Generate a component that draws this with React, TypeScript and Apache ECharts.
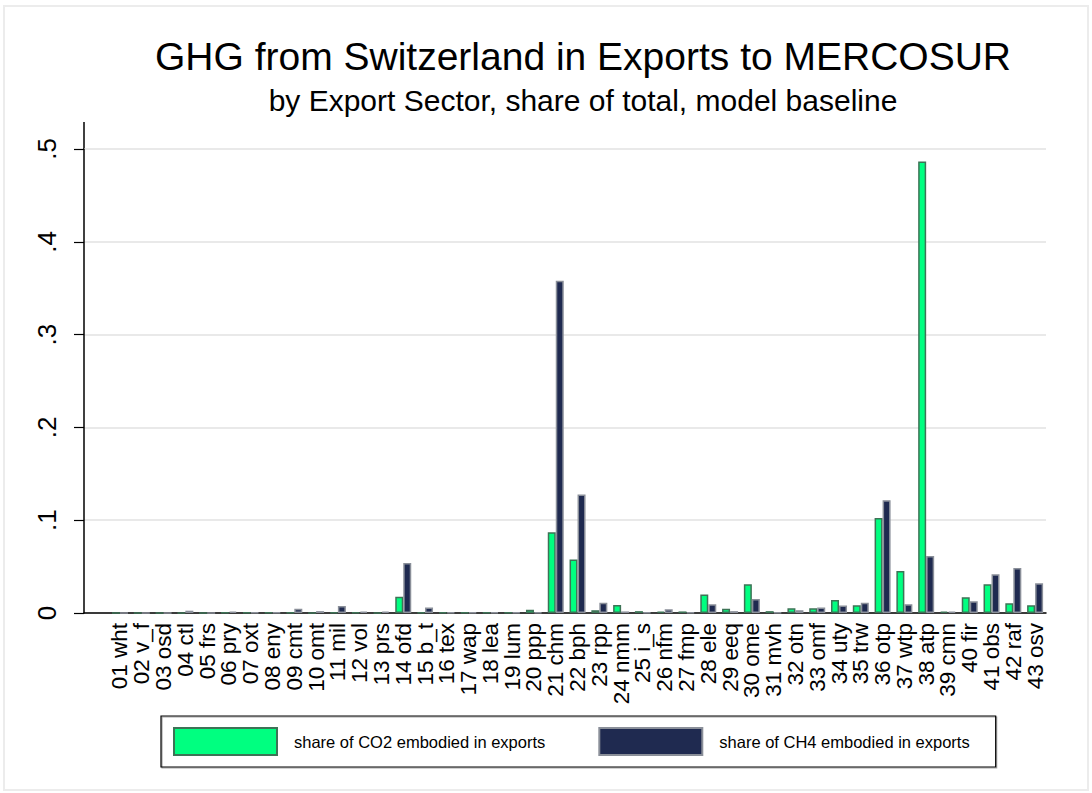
import React, { useEffect, useRef } from "react";
import * as echarts from "echarts";

const categories = ["01 wht","02 v_f","03 osd","04 ctl","05 frs","06 pry","07 oxt","08 eny","09 cmt","10 omt","11 mil","12 vol","13 prs","14 ofd","15 b_t","16 tex","17 wap","18 lea","19 lum","20 ppp","21 chm","22 bph","23 rpp","24 nmm","25 i_s","26 nfm","27 fmp","28 ele","29 eeq","30 ome","31 mvh","32 otn","33 omf","34 uty","35 trw","36 otp","37 wtp","38 atp","39 cmn","40 fir","41 obs","42 raf","43 osv"];

const co2Share = [0, 0, 0, 0.0002, 0, 0.0003, 0.0005, 0.0005, 0.0003, 0.0002, 0.0008, 0.0006, 0.0002, 0.0175, 0.0008, 0.0008, 0.0003, 0.0007, 0.0003, 0.0035, 0.087, 0.0576, 0.003, 0.0085, 0.002, 0.0015, 0.0017, 0.020, 0.0045, 0.031, 0.002, 0.005, 0.005, 0.014, 0.0083, 0.1025, 0.0453, 0.4865, 0.0015, 0.017, 0.031, 0.0104, 0.0083];

const ch4Share = [0, 0, 0, 0.0025, 0, 0.0015, 0.0005, 0.0005, 0.0045, 0.002, 0.0075, 0.0015, 0.0015, 0.054, 0.006, 0.0008, 0.0007, 0.0008, 0.0007, 0.0008, 0.358, 0.1277, 0.011, 0.0017, 0.0007, 0.004, 0.0007, 0.0094, 0.002, 0.015, 0.0007, 0.003, 0.006, 0.008, 0.011, 0.1216, 0.0095, 0.0615, 0.0015, 0.0126, 0.0417, 0.0485, 0.032];

const yTicks = [0, 0.1, 0.2, 0.3, 0.4, 0.5];

const titleText = "GHG from Switzerland in Exports to MERCOSUR";
const subtitleText = "by Export Sector, share of total, model baseline";
const co2Name = "share of CO2 embodied in exports";
const ch4Name = "share of CH4 embodied in exports";

const FONT = "'Liberation Sans', Arial, Helvetica, sans-serif";

export default function App() {
  const ref = useRef<HTMLDivElement>(null);
  useEffect(() => {
    if (!ref.current) return;
    const chart = echarts.init(ref.current, null, { renderer: "svg" });
    const yMin = yTicks[0];
    const yMax = yTicks[yTicks.length - 1];
    const gridTop = 149;
    const gridBottom = 180;
    chart.setOption({
      animation: false,
      backgroundColor: "#ffffff",
      textStyle: { fontFamily: FONT },
      title: [
        {
          text: titleText,
          left: 578,
          top: 32,
          textAlign: "center",
          textStyle: { fontFamily: FONT, fontSize: 39, fontWeight: "normal", color: "#000" },
        },
        {
          text: subtitleText,
          left: 578,
          top: 80,
          textAlign: "center",
          textStyle: { fontFamily: FONT, fontSize: 30, fontWeight: "normal", color: "#000" },
        },
      ],
      legend: {
        left: 161,
        top: 716,
        orient: "horizontal",
        padding: [11, 26, 11, 12],
        itemWidth: 103,
        itemHeight: 27,
        itemGap: 53,
        borderColor: "#000",
        borderWidth: 1.2,
        shadowColor: "rgba(0,0,0,0.35)",
        shadowOffsetX: 1,
        shadowOffsetY: 1,
        shadowBlur: 0,
        icon: "rect",
        textStyle: { fontFamily: FONT, fontSize: 16.5, color: "#000", padding: [0, 0, 0, 12] },
        data: [co2Name, ch4Name],
      },
      grid: [
        { left: 84, right: 46, top: gridTop, bottom: gridBottom },
        { left: 109.1, right: 46, top: gridTop, bottom: gridBottom },
      ],
      xAxis: [
        {
          type: "value",
          gridIndex: 0,
          min: 0,
          max: 1,
          axisLine: { show: true, lineStyle: { color: "#000", width: 1.5 } },
          axisTick: { show: false },
          axisLabel: { show: false },
          splitLine: { show: false },
        },
        {
          type: "category",
          gridIndex: 1,
          data: categories,
          axisLine: { show: false },
          axisTick: { show: false },
          axisLabel: {
            interval: 0,
            rotate: 90,
            margin: 10,
            fontFamily: FONT,
            fontSize: 22.5,
            color: "#000",
          },
        },
      ],
      yAxis: [
        {
          type: "value",
          gridIndex: 0,
          min: yMin,
          max: yMax,
          interval: 0.1,
          axisLine: { show: true, lineStyle: { color: "#000", width: 1.5 } },
          axisTick: { show: true, length: 10, lineStyle: { color: "#000", width: 1.2 } },
          axisLabel: {
            rotate: 90,
            margin: 24,
            fontFamily: FONT,
            fontSize: 26,
            color: "#000",
            formatter: (v: number) => (v === 0 ? "0" : v.toFixed(1).replace(/^0/, "")),
          },
          splitLine: { show: true, lineStyle: { color: "#e9e9e9", width: 2 } },
        },
        {
          type: "value",
          gridIndex: 1,
          min: yMin,
          max: yMax,
          interval: 0.1,
          show: false,
          splitLine: { show: false },
        },
      ],
      series: [
        {
          name: co2Name,
          type: "bar",
          xAxisIndex: 1,
          yAxisIndex: 1,
          data: co2Share,
          barWidth: 8,
          barGap: "0%",
          itemStyle: { color: "#00ff80", borderColor: "#3d7356", borderWidth: 1.5 },
        },
        {
          name: ch4Name,
          type: "bar",
          xAxisIndex: 1,
          yAxisIndex: 1,
          data: ch4Share,
          barWidth: 8,
          barGap: "0%",
          itemStyle: { color: "#1f2a50", borderColor: "#8a8f99", borderWidth: 1.5 },
        },
      ],
      graphic: [
        {
          type: "rect",
          shape: { x: 4, y: 6, width: 1084, height: 784 },
          style: { fill: "none", stroke: "#ececec", lineWidth: 2 },
          silent: true,
          z: -10,
        },
        {
          type: "line",
          shape: { x1: 84, y1: 122, x2: 84, y2: 150 },
          style: { stroke: "#000", lineWidth: 1.5 },
          silent: true,
        },
      ],
    });
    return () => chart.dispose();
  }, []);
  return (
    <div
      ref={ref}
      style={{ position: "fixed", left: 0, top: 0, width: 1092, height: 793 }}
    />
  );
}
